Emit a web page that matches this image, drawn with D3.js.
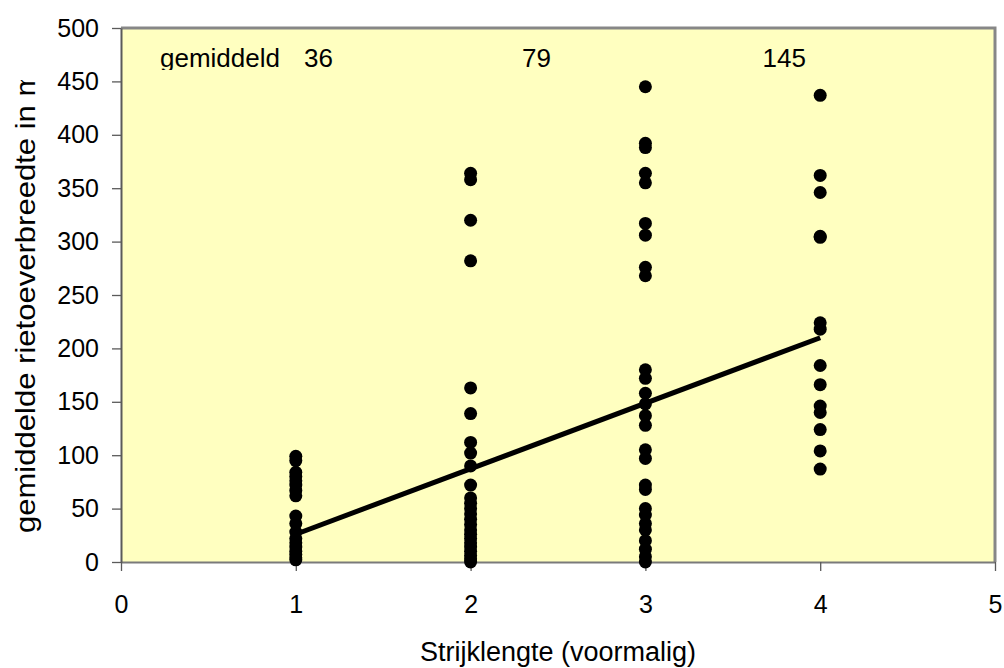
<!DOCTYPE html>
<html lang="en">
<head>
	<meta charset="UTF-8">
	<title>Rietoeverbreedte</title>
	<script src="https://cdn.jsdelivr.net/npm/d3@7"></script>
	<style>
		body { margin: 0; background: #fff; }
		svg text { font-family: "Liberation Sans", Arial, sans-serif; fill: #000; }
	</style>
</head>
<body>
	<div id="vis"></div>

	<script>
		// data
		var strijk1 = [99, 95, 84, 80, 76, 72, 67, 62, 43, 36, 28, 22, 18, 14, 10, 7, 4, 2];
		var strijk2 = [364, 358, 320, 282, 163, 139, 112, 102, 90, 72, 60, 55, 50, 45, 40, 35, 30, 26, 22, 18, 14, 10, 6, 3, 0];
		var strijk3 = [445, 392, 388, 364, 355, 317, 306, 276, 268, 180, 172, 158, 148, 137, 128, 105, 97, 72, 68, 50, 44, 36, 30, 20, 12, 5, 0];
		var strijk4 = [437, 362, 346, 305, 304, 224, 218, 184, 166, 146, 140, 124, 104, 87];

		var trendX = [1, 4];
		var trendY = [26, 210];

		var meanPrefix = "gemiddeld";
		var meanValues = ["36", "79", "145"];

		var xTicks = [0, 1, 2, 3, 4, 5];
		var yTicks = [0, 50, 100, 150, 200, 250, 300, 350, 400, 450, 500];

		var width = 1004;
		var height = 668;
		var margin = {top: 28, right: 9, bottom: 106, left: 121};
		var w = width - margin.left - margin.right;
		var h = height - margin.top - margin.bottom;

		var svg = d3.select("#vis").append("svg")
				.attr("width", width)
				.attr("height", height);

		var x = d3.scaleLinear().domain([0, 5]).range([0, w]);
		var y = d3.scaleLinear().domain([0, 500]).range([h, 0]);

		var g = svg.append("g")
				.attr("transform", "translate(" + margin.left + "," + margin.top + ")");

		// plot background
		g.append("rect")
				.attr("width", w)
				.attr("height", h)
				.attr("fill", "#ffffc0");

		// top and right frame
		g.append("path")
				.attr("d", "M0,0H" + w + "V" + h)
				.attr("fill", "none")
				.attr("stroke", "#878787")
				.attr("stroke-width", 3);

		// axes
		var xAxis = g.append("g")
				.attr("transform", "translate(0," + h + ")")
				.call(d3.axisBottom(x).tickValues(xTicks).tickSizeInner(9).tickSizeOuter(0).tickPadding(24).tickFormat(d3.format("d")));
		var yAxis = g.append("g")
				.call(d3.axisLeft(y).tickValues(yTicks).tickSizeInner(9).tickSizeOuter(0).tickPadding(13).tickFormat(d3.format("d")));

		[xAxis, yAxis].forEach(function(a) {
			a.select(".domain").attr("stroke", "#5a5a5a").attr("stroke-width", 2);
			a.selectAll(".tick line").attr("stroke", "#5a5a5a").attr("stroke-width", 1.3);
			a.selectAll("text").attr("font-size", 25).attr("font-family", "Liberation Sans, Arial, sans-serif");
		});
		xAxis.select(".domain").attr("stroke", "#7a7a7a");

		// points
		var points = [];
		[strijk1, strijk2, strijk3, strijk4].forEach(function(vals, i) {
			vals.forEach(function(v) { points.push({x: i + 1, y: v}); });
		});

		g.selectAll("circle.pt")
				.data(points)
				.enter().append("circle")
				.attr("class", "pt")
				.attr("cx", function(d) { return x(d.x); })
				.attr("cy", function(d) { return y(d.y); })
				.attr("r", 6.5)
				.attr("fill", "#000");

		// trend line
		var line = d3.line()
				.x(function(d) { return x(d[0]); })
				.y(function(d) { return y(d[1]); });
		g.append("path")
				.datum(d3.zip(trendX, trendY))
				.attr("d", line)
				.attr("fill", "none")
				.attr("stroke", "#000")
				.attr("stroke-width", 5);

		// mean labels, clipped at the bottom like the original
		svg.append("clipPath").attr("id", "meanclip")
				.append("rect").attr("x", 0).attr("y", 0).attr("width", width).attr("height", 70);

		var meanLayer = svg.append("g").attr("clip-path", "url(#meanclip)");
		var meanRight = [333, 551, 806];

		meanLayer.append("text")
				.attr("x", 160)
				.attr("y", 67)
				.attr("font-size", 26)
				.text(meanPrefix);

		meanLayer.selectAll("text.mean")
				.data(meanValues)
				.enter().append("text")
				.attr("class", "mean")
				.attr("x", function(d, i) { return meanRight[i]; })
				.attr("y", 67)
				.attr("text-anchor", "end")
				.attr("font-size", 26)
				.text(function(d) { return d; });

		// axis titles
		svg.append("text")
				.attr("x", 558)
				.attr("y", 661)
				.attr("text-anchor", "middle")
				.attr("font-size", 27)
				.text("Strijklengte (voormalig)");

		// y title is stretched along its baseline and cut off at the top, as in the original
		svg.append("clipPath").attr("id", "yclip")
				.append("rect").attr("x", 0).attr("y", 80).attr("width", 60).attr("height", 600);

		svg.append("g").attr("clip-path", "url(#yclip)")
				.append("text")
				.attr("transform", "translate(35,533) rotate(-90) scale(1.15,1)")
				.attr("text-anchor", "start")
				.attr("font-size", 27)
				.text("gemiddelde rietoeverbreedte in m");
	</script>
</body>
</html>
